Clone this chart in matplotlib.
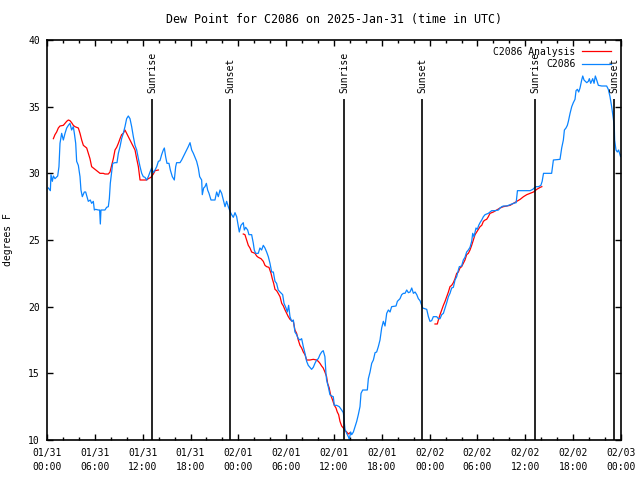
import matplotlib
matplotlib.use("Agg")
import matplotlib.pyplot as plt
import numpy as np

plt.rcParams["font.family"] = ["DejaVu Sans Mono"]
plt.rcParams["font.size"] = 7

# hours since 2025-01-31 00:00 UTC
obs_h = [0.17, 0.42, 0.5, 0.67, 0.8, 1.0, 1.34, 1.5, 1.63, 1.84, 2.05, 2.26, 2.47, 2.68, 2.88,
         3.09, 3.3, 3.43, 3.6, 3.72, 3.93, 4.14, 4.26, 4.43, 4.68, 4.85, 5.02, 5.18, 5.43, 5.6,
         5.81, 5.94, 6.1, 6.44, 6.6, 6.69, 6.77, 7.27, 7.48, 7.69, 7.82, 7.94, 8.11, 8.24, 8.53,
         8.78, 8.95, 9.16, 9.36, 9.57, 9.78, 9.99, 10.2, 10.41, 10.62, 10.83, 11.04, 11.25, 11.46,
         11.67, 11.88, 12.08, 12.29, 12.5, 12.71, 12.92, 13.13, 13.34, 13.55, 13.76, 13.97, 14.17,
         14.38, 14.59, 14.72, 14.88, 15.05, 15.3, 15.47, 15.72, 15.97, 16.14, 16.26, 16.68, 16.89,
         17.1, 17.3, 17.51, 17.72, 17.94, 18.15, 18.36, 18.56, 18.77, 18.98, 19.15, 19.4, 19.48,
         19.65, 19.82, 19.99, 20.15, 20.32, 20.57, 21.07, 21.28, 21.49, 21.7, 21.91, 22.12, 22.33,
         22.53, 22.74, 22.99, 23.16, 23.37, 23.58, 23.79, 24.0, 24.12, 24.33, 24.62, 24.75, 24.92,
         25.17, 25.33, 25.67, 25.88, 26.0, 26.17, 26.5, 26.71, 26.92, 27.13, 27.34, 27.55, 27.76,
         27.97, 28.18, 28.39, 28.6, 28.8, 29.0, 29.23, 29.56, 29.73, 29.98, 30.15, 30.31, 30.48,
         30.69, 30.9, 31.1, 31.31, 31.52, 31.73, 31.94, 32.15, 32.36, 32.57, 32.77, 32.98, 33.19,
         33.4, 33.61, 33.82, 34.03, 34.24, 34.45, 34.65, 34.86, 34.99, 35.07, 35.28, 35.49, 35.7,
         35.91, 36.04, 36.33, 36.66, 36.96, 37.17, 37.25, 37.38, 37.59, 37.8, 37.92, 38.09, 38.22,
         38.43, 38.64, 38.85, 39.05, 39.26, 39.39, 39.6, 40.18, 40.31, 40.52, 40.73, 40.94, 41.15,
         41.35, 41.56, 41.77, 41.98, 42.19, 42.4, 42.61, 42.82, 43.03, 43.23, 43.78, 43.95, 44.28,
         44.49, 44.7, 44.91, 45.12, 45.33, 45.54, 45.75, 45.96, 46.17, 46.38, 46.58, 46.79, 47.12,
         47.63, 47.84, 48.04, 48.25, 48.46, 48.88, 49.09, 49.3, 49.51, 49.72, 49.93, 50.14, 50.35,
         50.55, 50.76, 50.97, 51.18, 51.39, 51.6, 51.72, 52.01, 52.22, 52.43, 52.64, 52.85, 53.06,
         53.27, 53.4, 53.56, 53.69, 53.81, 53.98, 54.15, 54.32, 54.53, 54.74, 54.95, 55.15, 55.36,
         55.57, 55.78, 56.2, 56.62, 56.83, 57.04, 57.25, 57.67, 57.88, 58.3, 58.51, 58.85, 59.01,
         60.6, 60.94, 61.11, 61.36, 61.65, 61.95, 62.11, 62.28, 63.3, 63.52, 64.35, 64.56, 64.77,
         64.9, 65.1, 65.27, 65.4, 65.61, 65.82, 66.02, 66.23, 66.36, 66.53, 66.69, 66.86, 67.07,
         67.2, 67.36, 67.53, 67.7, 67.9, 68.03, 68.2, 68.45, 68.62, 68.78, 68.95, 69.16, 69.58,
         70.2, 70.41, 70.62, 70.83, 71.04, 71.16, 71.2, 71.37, 71.54, 71.7, 71.95, 72.0]
obs_v = [28.9, 28.7, 29.9, 29.4, 29.8, 29.6, 29.8, 30.5, 32.25, 33.0, 32.5, 33.0, 33.4, 33.6, 33.75,
         33.25, 33.5, 33.0, 32.25, 30.9, 30.6, 29.75, 28.75, 28.25, 28.6, 28.6, 28.25, 27.9, 28.0, 27.75,
         27.9, 27.25, 27.3, 27.25, 27.25, 26.2, 27.25, 27.25, 27.45, 27.5, 28.1, 29.25, 30.1, 30.75, 30.8,
         30.8, 31.5, 32.0, 32.6, 33.0, 33.5, 34.1, 34.3, 34.1, 33.5, 32.75, 32.1, 31.75, 31.1,
         30.5, 30.0, 29.75, 29.7, 29.5, 29.75, 30.1, 30.4, 30.05, 30.25, 30.5, 30.9, 30.95,
         31.4, 31.75, 31.9, 31.25, 30.75, 30.75, 30.25, 29.75, 29.5, 30.5, 30.8, 30.8, 31.0,
         31.25, 31.5, 31.75, 32.0, 32.3, 31.75, 31.5, 31.2, 30.9, 30.4, 29.75, 29.5, 28.4,
         28.9, 29.0, 29.25, 28.75, 28.5, 28.0, 28.0, 28.6, 28.25, 28.75, 28.5, 28.0, 27.5,
         27.9, 27.5, 27.1, 26.9, 26.7, 27.05, 26.75, 26.0, 25.6, 26.1, 26.3, 25.75, 25.95,
         25.75, 25.4, 25.4, 24.75, 24.25, 24.0, 24.0, 24.4, 24.25, 24.6, 24.4, 24.1, 23.75,
         23.25, 22.6, 22.6, 21.9, 21.75, 21.25, 21.1, 20.9, 20.25, 19.9, 19.6, 20.1, 19.25,
         18.9, 19.0, 18.1, 17.9, 17.6, 17.5, 17.6, 17.0, 16.5, 15.9, 15.6, 15.45, 15.3,
         15.45, 15.75, 16.0, 16.1, 16.4, 16.6, 16.7, 16.25, 15.0, 14.5, 14.0, 13.4, 13.3,
         13.25, 12.6, 12.6, 12.5, 12.25, 12.05, 11.6, 10.8, 10.5, 10.25, 10.05, 10.6, 10.4,
         10.6, 11.0, 11.4, 11.9, 12.5, 13.5, 13.75, 13.75, 14.6, 15.1, 15.75, 16.0, 16.55,
         16.6, 17.0, 17.5, 18.4, 18.9, 18.55, 19.5, 19.75, 19.6, 20.0, 20.05, 20.4, 20.6,
         20.9, 21.0, 21.0, 21.25, 21.05, 21.1, 21.4, 21.0, 21.1, 20.9, 20.6, 20.45, 19.9,
         19.8, 19.25, 18.9, 18.95, 19.25, 19.25, 19.1, 19.1, 19.4, 19.5, 19.9, 20.3, 20.75,
         21.0, 21.4, 21.45, 22.0, 22.25, 22.75, 23.0, 23.05, 23.5, 23.7, 24.1, 24.25, 24.45,
         24.9, 25.5, 25.25, 25.6, 25.9, 25.8, 26.1, 26.3, 26.5, 26.75, 26.9, 26.95, 27.0,
         27.1, 27.2, 27.2, 27.25, 27.4, 27.5, 27.55, 27.55, 27.6, 27.7, 27.75, 27.8, 28.7,
         28.7, 28.8, 28.9, 29.0, 29.0, 29.1, 29.4, 30.0, 30.0, 31.0, 31.05, 31.9, 32.5,
         33.25, 33.4, 33.6, 33.9, 34.5, 35.0, 35.3, 35.55, 36.2, 36.3, 36.1, 36.4, 37.0,
         37.3, 37.0, 36.9, 36.8, 36.9, 37.1, 36.75, 37.1, 36.75, 37.3, 37.0, 36.6, 36.55,
         36.55, 36.3, 35.75, 35.0, 34.1, 33.5, 32.5, 31.75, 31.6, 31.75, 31.25, 31.4]

# analysis, three separate runs (NaN breaks the line)
ana_h = [0.8, 1.0, 1.21, 1.42, 1.63, 2.05, 2.26, 2.47, 2.68, 2.88, 3.09, 3.3, 3.51, 3.72, 3.93,
         4.14, 4.35, 4.56, 4.77, 4.98, 5.18, 5.39, 5.6, 5.81, 6.02, 6.23, 6.44, 6.65, 7.06, 7.27,
         7.69, 7.9, 8.11, 8.32, 8.53, 8.74, 8.95, 9.16, 9.36, 9.57, 9.78, 9.99, 10.2, 10.41, 10.62,
         10.83, 11.04, 11.25, 11.46, 11.67, 12.08, 12.5, 12.71, 13.04, 13.34, 13.55, 13.97, np.nan,
         24.62, 24.83, 25.04, 25.25, 25.46, 25.67, 26.09, 26.3, 26.5, 26.84, 27.13, 27.34, 27.55,
         27.84, 28.1, 28.26, 28.43, 28.6, 28.8, 29.0, 29.23, 29.44, 29.65, 29.86, 30.06, 30.27,
         30.48, 30.69, 30.9, 31.1, 31.31, 31.52, 31.73, 31.94, 32.15, 32.36, 32.57, 32.98, 33.4,
         33.82, 34.03, 34.24, 34.45, 34.65, 34.86, 35.07, 35.2, 35.4, 35.57, 35.82, 36.04, 36.25,
         36.41, 36.58, 36.75, 36.96, 37.17, 37.38, 37.59, 37.8, 38.01, np.nan,
         48.67, 48.96, 49.09, 49.3, 49.51, 49.72, 49.93, 50.14, 50.35, 50.55, 50.76, 50.97, 51.18,
         51.39, 51.6, 51.8, 52.01, 52.22, 52.43, 52.64, 52.85, 53.06, 53.27, 53.48, 53.69, 53.9,
         54.11, 54.32, 54.53, 54.74, 54.95, 55.15, 55.36, 55.57, 55.99, 56.41, 56.83, 57.25, 57.67,
         58.09, 58.51, 58.93, 59.35, 59.77, 60.18, 60.6, 61.02, 61.44, 61.86, 62.07]
ana_v = [32.6, 32.9, 33.1, 33.4, 33.55, 33.6, 33.75, 33.9, 34.0, 33.95, 33.8, 33.6, 33.5, 33.45, 33.4,
         33.0, 32.5, 32.1, 32.0, 31.9, 31.5, 31.1, 30.5, 30.4, 30.3, 30.2, 30.1, 30.0, 30.0, 29.95,
         29.95, 30.1, 30.6, 31.1, 31.75, 31.95, 32.25, 32.6, 32.9, 33.0, 33.25, 33.0, 32.75, 32.5, 32.25,
         32.0, 31.75, 31.1, 30.5, 29.5, 29.5, 29.5, 29.6, 29.7, 29.95, 30.2, 30.25, np.nan,
         25.45, 25.4, 25.0, 24.6, 24.4, 24.1, 24.0, 23.8, 23.7, 23.6, 23.4, 23.1, 23.0,
         22.95, 22.5, 22.1, 21.75, 21.3, 21.2, 21.0, 20.75, 20.25, 20.05, 19.75, 19.5, 19.25,
         19.05, 18.95, 18.9, 18.25, 18.0, 17.5, 17.1, 16.9, 16.6, 16.4, 16.0, 16.0, 16.05,
         16.0, 15.9, 15.75, 15.55, 15.4, 15.1, 14.75, 14.25, 13.9, 13.4, 13.0, 12.6, 12.4,
         12.1, 11.9, 11.4, 11.05, 10.9, 10.7, 10.6, 10.45, 10.55, np.nan,
         18.7, 18.7, 19.0, 19.4, 19.75, 20.1, 20.4, 20.75, 21.1, 21.5, 21.6, 21.8, 22.1,
         22.5, 22.6, 22.9, 23.0, 23.25, 23.5, 23.9, 24.0, 24.25, 24.6, 25.0, 25.4, 25.6,
         25.8, 26.0, 26.1, 26.4, 26.5, 26.55, 26.75, 27.0, 27.1, 27.25, 27.4, 27.5, 27.55,
         27.6, 27.75, 27.9, 28.05, 28.25, 28.4, 28.5, 28.6, 28.8, 28.95, 29.0]

sun_h = [13.2, 23.0, 37.25, 47.05, 61.2, 71.15]
sun_lbl = ["Sunrise", "Sunset", "Sunrise", "Sunset", "Sunrise", "Sunset"]

xtick_h = list(range(0, 73, 6))
xtick_lbl = ["01/31\n00:00", "01/31\n06:00", "01/31\n12:00", "01/31\n18:00",
             "02/01\n00:00", "02/01\n06:00", "02/01\n12:00", "02/01\n18:00",
             "02/02\n00:00", "02/02\n06:00", "02/02\n12:00", "02/02\n18:00",
             "02/03\n00:00"]

fig = plt.figure(figsize=(6.4, 4.8), dpi=100)
ax = fig.add_axes([47/640, 40/480, 574/640, 400/480])

ax.plot(ana_h, ana_v, color="#ff0000", lw=0.9, label="C2086 Analysis")
ax.plot(obs_h, obs_v, color="#0a84ff", lw=0.9, label="C2086")

for h, s in zip(sun_h, sun_lbl):
    ax.vlines(h, 10, 35.57, color="black", lw=1.2, zorder=3)
    ax.text(h, 36.05, s, rotation=90, ha="center", va="bottom")

ax.set_xlim(0, 72)
ax.set_ylim(10, 40)
ax.set_xticks(xtick_h)
ax.set_xticklabels(xtick_lbl, linespacing=1.45)
ax.set_xticks(range(0, 73, 2), minor=True)
ax.set_yticks([10, 15, 20, 25, 30, 35, 40])
ax.tick_params(which="both", direction="in", top=True, right=True, width=1)
ax.tick_params(which="major", length=4, pad=6)
ax.tick_params(which="minor", length=2.2)
ax.tick_params(axis="y", pad=5)
for sp in ax.spines.values():
    sp.set_linewidth(1.2)

ax.set_ylabel("degrees F", labelpad=11)
ax.set_title("Dew Point for C2086 on 2025-Jan-31 (time in UTC)", pad=12)

ax.legend(loc="upper right", markerfirst=False, frameon=False, handlelength=3.0,
          handletextpad=0.7, labelspacing=0.25, borderaxespad=0.3,
          bbox_to_anchor=(0.995, 1.0))

fig.savefig("out.png", dpi=100)
